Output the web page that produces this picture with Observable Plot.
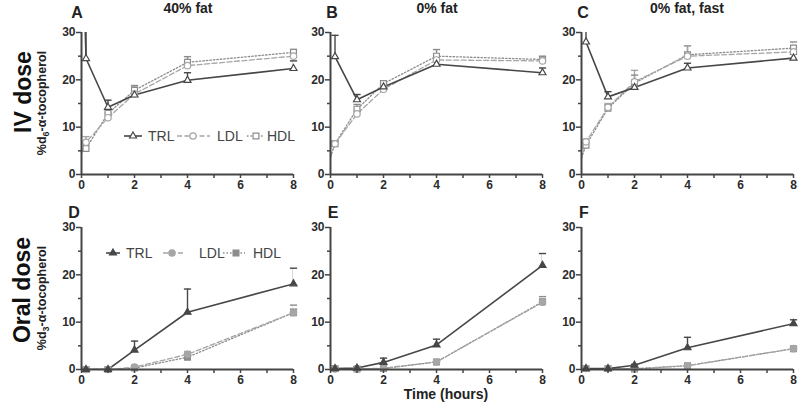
<!DOCTYPE html>
<html><head><meta charset="utf-8">
<script src="https://cdn.jsdelivr.net/npm/d3@7"></script>
<script src="https://cdn.jsdelivr.net/npm/@observablehq/plot@0.6"></script>
<style>
body{margin:0;background:#fff;}
#root{position:relative;width:800px;height:405px;overflow:hidden;font-family:"Liberation Sans",Arial,sans-serif;}
.panel{position:absolute;}
.panel svg{overflow:visible;background:transparent;max-width:none;}
#overlay{position:absolute;left:0;top:0;pointer-events:none;}
</style></head>
<body><div id="root"></div>
<script>
// ---------- data ----------
const timesIV = [0, 0.17, 1, 2, 4, 8];
const timesOral = [0.17, 1, 2, 4, 8];
const seriesNames = ["TRL", "LDL", "HDL"];
const panelLetters = ["A", "B", "C", "D", "E", "F"];
const dietTitles = ["40% fat", "0% fat", "0% fat, fast"];
const doseLabels = ["IV dose", "Oral dose"];
const xTicks = [0, 1, 2, 3, 4, 5, 6, 7, 8];
const yMajorTicks = [0, 10, 20, 30];
const yMinorTicks = [5, 15, 25];

// IV dose (%d6-α-tocopherol), values and upper error-bar ends
const A_TRL = [60, 24.5, 14.2, 16.8, 19.9, 22.4];
const A_TRL_top = [null, 40, 15.7, null, 21.5, 24.0];
const A_LDL = [4.5, 6.8, 12.0, 17.0, 23.0, 25.0];
const A_LDL_top = [null, 8.0, 13.0, 18.5, 24.0, 25.8];
const A_HDL = [4.8, 5.5, 12.9, 17.8, 23.7, 25.8];
const A_HDL_top = [null, 6.5, 13.8, 18.8, 24.9, 26.4];

const B_TRL = [null, 24.9, 15.8, 18.5, 23.3, 21.5];
const B_TRL_top = [null, 29.4, 16.9, 19.2, null, 22.5];
const B_LDL = [3.7, 6.5, 12.8, 18.0, 24.2, 24.0];
const B_LDL_top = [null, 7.0, 13.5, 18.5, 25.0, 24.6];
const B_HDL = [3.7, 6.5, 13.8, 19.2, 25.0, 24.3];
const B_HDL_top = [null, 7.0, 14.8, 19.8, 26.4, 25.0];

const C_TRL = [null, 28.0, 16.4, 18.4, 22.5, 24.6];
const C_TRL_top = [null, 32, 17.5, null, 23.5, 25.4];
const C_LDL = [3.5, 6.9, 14.2, 19.6, 25.0, 25.9];
const C_LDL_top = [null, 7.5, 15.0, 22.0, 27.2, 26.8];
const C_HDL = [3.5, 6.2, 14.0, 19.3, 25.3, 26.7];
const C_HDL_top = [null, 6.8, 14.8, 21.0, 27.2, 28.0];

// Oral dose (%d3-α-tocopherol)
const D_TRL = [0, 0, 4.1, 12.1, 18.1];
const D_TRL_top = [0.3, 0.3, 6.0, 17.0, 21.4];
const D_LDL = [0, 0, 0.5, 3.2, 12.0];
const D_LDL_top = [null, null, 0.8, 3.8, 12.8];
const D_HDL = [0, 0, 0.3, 2.6, 12.0];
const D_HDL_top = [null, null, null, 3.0, 13.6];

const E_TRL = [0.2, 0.3, 1.5, 5.2, 22.0];
const E_TRL_top = [0.4, 0.6, 2.4, 6.4, 24.5];
const E_LDL = [0.1, 0.1, 0.3, 1.6, 14.2];
const E_LDL_top = [null, null, null, null, 14.8];
const E_HDL = [0.2, 0.1, 0.2, 1.6, 14.3];
const E_HDL_top = [null, null, null, null, 15.4];

const F_TRL = [0.2, 0.2, 0.9, 4.6, 9.7];
const F_TRL_top = [null, null, 1.1, 6.8, 10.5];
const F_LDL = [0.2, 0.2, 0.2, 0.8, 4.4];
const F_LDL_top = [null, null, null, null, 4.7];
const F_HDL = [0.2, 0.2, 0.1, 0.8, 4.4];
const F_HDL_top = [null, null, null, null, 4.7];

// ---------- layout / style ----------
const panelX = [81, 330, 581];     // pixel of x = 0 axis
const panelY = [32, 227];          // pixel of y = 30
const PW = 212, PH = 142;
const ML = 45, MR = 15, MT = 15, MB = 25;

const style = {
  TRL: {color: "#474747", dash: null, width: 1.6, symbol: "triangle", r: 2.6},
  LDL: {color: "#a6a6a6", dash: "5,2.5", width: 1.3, symbol: "circle", r: 3.2},
  HDL: {color: "#8c8c8c", dash: "1.5,2", width: 1.3, symbol: "square", r: 3.3}
};
const capSymbol = {draw(ctx, size) { const w = Math.sqrt(size / Math.PI); ctx.moveTo(-w, 0); ctx.lineTo(w, 0); }};

const panels = [
  {times: timesIV, oral: false, TRL: [A_TRL, A_TRL_top], LDL: [A_LDL, A_LDL_top], HDL: [A_HDL, A_HDL_top]},
  {times: timesIV, oral: false, TRL: [B_TRL, B_TRL_top], LDL: [B_LDL, B_LDL_top], HDL: [B_HDL, B_HDL_top]},
  {times: timesIV, oral: false, TRL: [C_TRL, C_TRL_top], LDL: [C_LDL, C_LDL_top], HDL: [C_HDL, C_HDL_top]},
  {times: timesOral, oral: true, TRL: [D_TRL, D_TRL_top], LDL: [D_LDL, D_LDL_top], HDL: [D_HDL, D_HDL_top]},
  {times: timesOral, oral: true, TRL: [E_TRL, E_TRL_top], LDL: [E_LDL, E_LDL_top], HDL: [E_HDL, E_HDL_top]},
  {times: timesOral, oral: true, TRL: [F_TRL, F_TRL_top], LDL: [F_LDL, F_LDL_top], HDL: [F_HDL, F_HDL_top]}
];

const root = document.getElementById("root");
const axisText = {fontSize: 12, fontWeight: "bold", stroke: "#444", strokeWidth: 1.5, fill: "#2b2b2b", label: null};

panels.forEach((p, idx) => {
  const col = idx % 3, row = Math.floor(idx / 3);
  const lines = [], bars = [], caps = [], dots = [];
  for (const s of ["HDL", "LDL", "TRL"]) {
    const st = style[s];
    const [vals, tops] = p[s];
    const rows = p.times.map((t, i) => ({t, v: vals[i], top: tops[i]})).filter(d => d.v != null);
    lines.push(Plot.line(rows, {x: "t", y: "v", stroke: st.color, strokeWidth: st.width, strokeDasharray: st.dash, clip: true}));
    const withErr = rows.filter(d => d.top != null && d.t > 0);
    bars.push(Plot.ruleX(withErr, {x: "t", y1: "v", y2: "top", stroke: st.color, strokeWidth: 1.4, clip: true}));
    caps.push(Plot.dot(withErr.filter(d => d.top <= 30), {x: "t", y: "top", symbol: capSymbol, r: 3.6, stroke: st.color, strokeWidth: 1.4}));
    dots.push(Plot.dot(rows.filter(d => d.t > 0), {x: "t", y: "v", symbol: st.symbol, r: st.r,
      stroke: st.color, strokeWidth: 1.2, fill: p.oral ? st.color : "white"}));
  }
  const chart = Plot.plot({
    width: PW + ML + MR, height: PH + MT + MB,
    marginLeft: ML, marginRight: MR, marginTop: MT, marginBottom: MB,
    x: {domain: [0, 8]},
    y: {domain: [0, 30]},
    style: {background: "transparent", overflow: "visible", fontFamily: "'Liberation Sans', Arial, sans-serif", fontSize: "12px", fontWeight: "bold", color: "#333"},
    marks: [
      ...lines, ...bars, ...caps, ...dots,
      Plot.axisX({ticks: xTicks, tickSize: 4, tickPadding: 2, tickFormat: d => d % 2 ? "" : String(d), ...axisText}),
      Plot.axisY({ticks: yMajorTicks, tickSize: 5, tickPadding: 1, ...axisText}),
      Plot.axisY({ticks: yMinorTicks, tickSize: 3, tickFormat: () => "", ...axisText}),
      Plot.ruleX([0], {stroke: "#444", strokeWidth: 2}),
      Plot.ruleY([0], {stroke: "#444", strokeWidth: 2})
    ]
  });
  const div = document.createElement("div");
  div.className = "panel";
  div.style.left = (panelX[col] - ML) + "px";
  div.style.top = (panelY[row] - MT) + "px";
  div.appendChild(chart);
  root.appendChild(div);
});

// ---------- overlay text & legends ----------
const svg = d3.select(root).append("svg").attr("id", "overlay").attr("width", 800).attr("height", 405)
  .attr("font-family", "'Liberation Sans', Arial, sans-serif");

const letterPos = [[77, 18], [332, 18], [583, 18], [74, 218], [333, 218], [584, 218]];
panelLetters.forEach((L, i) => svg.append("text").attr("x", letterPos[i][0]).attr("y", letterPos[i][1])
  .attr("text-anchor", "middle").attr("font-size", 16).attr("font-weight", "bold").attr("fill", "#222").text(L));

const titleX = [188, 437, 687];
dietTitles.forEach((t, i) => svg.append("text").attr("x", titleX[i]).attr("y", 13)
  .attr("text-anchor", "middle").attr("font-size", 14).attr("font-weight", "bold").attr("fill", "#222").text(t));

const doseCenter = [[31, 92], [30, 290]];
doseLabels.forEach((t, i) => svg.append("text")
  .attr("transform", `translate(${doseCenter[i][0]},${doseCenter[i][1]}) rotate(-90)`)
  .attr("text-anchor", "middle").attr("font-size", 23).attr("font-weight", "bold").attr("fill", "#111").text(t));

const ylabCenter = [[46, 103], [46, 298]];
const subs = ["6", "3"];
ylabCenter.forEach((c, i) => {
  const t = svg.append("text").attr("transform", `translate(${c[0]},${c[1]}) rotate(-90)`)
    .attr("text-anchor", "middle").attr("font-size", 12.5).attr("font-weight", "bold").attr("fill", "#222");
  t.append("tspan").text("%d");
  t.append("tspan").attr("font-size", 9).attr("dy", 3).text(subs[i]);
  t.append("tspan").attr("dy", -3).text("-α-tocopherol");
});

svg.append("text").attr("x", 446).attr("y", 399).attr("text-anchor", "middle")
  .attr("font-size", 14).attr("font-weight", "bold").attr("fill", "#222").text("Time (hours)");

const symType = {triangle: d3.symbolTriangle, circle: d3.symbolCircle, square: d3.symbolSquare};
function legend(y, items, filled) {
  items.forEach(it => {
    const st = style[it.name];
    svg.append("line").attr("x1", it.x0).attr("x2", it.x1).attr("y1", y).attr("y2", y)
      .attr("stroke", st.color).attr("stroke-width", st.width).attr("stroke-dasharray", st.dash);
    svg.append("path").attr("transform", `translate(${it.cx},${y})`)
      .attr("d", d3.symbol(symType[st.symbol], st.r * st.r * Math.PI)())
      .attr("fill", filled ? st.color : "white").attr("stroke", st.color).attr("stroke-width", 1.2);
    svg.append("text").attr("x", it.tx).attr("y", y + 5).attr("font-size", 14).attr("fill", "#444").text(it.name);
  });
}
legend(136, [
  {name: "TRL", x0: 124, x1: 142, cx: 133, tx: 148},
  {name: "LDL", x0: 177, x1: 210, cx: 193, tx: 217},
  {name: "HDL", x0: 247, x1: 264, cx: 256, tx: 267}
], false);
legend(253, [
  {name: "TRL", x0: 106, x1: 120, cx: 113, tx: 126},
  {name: "LDL", x0: 163, x1: 183, cx: 172, tx: 199},
  {name: "HDL", x0: 223, x1: 245, cx: 236, tx: 253}
], true);
</script>
</body></html>
